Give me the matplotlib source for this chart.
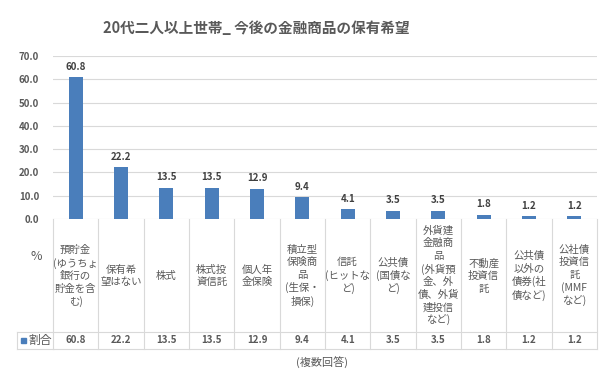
import matplotlib.pyplot as plt
from matplotlib.patches import Rectangle

plt.rcParams['font.family'] = ['Noto Sans CJK JP', 'DejaVu Sans']

categories = [
    "預貯金\n(ゆうちょ\n銀行の\n貯金を含\nむ)",
    "保有希\n望はない",
    "株式",
    "株式投\n資信託",
    "個人年\n金保険",
    "積立型\n保険商\n品\n(生保・\n損保)",
    "信託\n(ヒットな\nど)",
    "公共債\n(国債な\nど)",
    "外貨建\n金融商\n品\n(外貨預\n金、外\n債、外貨\n建投信\nなど)",
    "不動産\n投資信\n託",
    "公共債\n以外の\n債券(社\n債など)",
    "公社債\n投資信\n託\n(MMF\nなど)",
]
values = [60.8, 22.2, 13.5, 13.5, 12.9, 9.4, 4.1, 3.5, 3.5, 1.8, 1.2, 1.2]
series_name = "割合"
title = "20代二人以上世帯_ 今後の金融商品の保有希望"
note = "(複数回答)"

W, H = 600, 372
bar_color = '#4a7ebb'
text_color = '#595959'
grid_color = '#d9d9d9'

fig = plt.figure(figsize=(6, 3.72), dpi=100)

# pixel helpers
def fx(px):
    return px / W

def fy(py):
    return 1 - py / H

left, right, top, base = 53, 597, 56, 219
ax = fig.add_axes([fx(left), fy(base), fx(right - left), (base - top) / H])
n = len(values)
x = list(range(n))
ax.bar(x, values, width=0.31, color=bar_color, zorder=3)
ax.set_xlim(-0.5, n - 0.5)
ax.set_ylim(0, 70)
ax.set_yticks(range(0, 71, 10))
ax.set_yticklabels([f"{v:.1f}" for v in range(0, 71, 10)], fontsize=7, color=text_color, fontweight='bold')
ax.tick_params(axis='y', length=0, pad=10)
ax.set_xticks([])
ax.grid(axis='y', color=grid_color, linewidth=0.8, zorder=0)
for s in ax.spines.values():
    s.set_visible(False)
for xi, v in zip(x, values):
    ax.annotate(f"{v:.1f}", (xi, v), xytext=(0, 4), textcoords='offset points',
                ha='center', va='bottom', fontsize=7, color='#404040', fontweight='bold')

# table below the axis
row_top, row_bot = 332, 349
tab = fig.add_axes([fx(left), fy(row_bot), fx(right - left), (row_bot - base) / H])
tab.set_xlim(-0.5, n - 0.5)
tab.set_ylim(row_bot, base)
tab.axis('off')
line_kw = dict(color=grid_color, linewidth=0.8, clip_on=False)
for i in range(n + 1):
    tab.plot([i - 0.5, i - 0.5], [base, row_bot], **line_kw)
tab.plot([-0.5, n - 0.5], [row_top, row_top], **line_kw)
tab.plot([-0.5, n - 0.5], [row_bot, row_bot], **line_kw)
for xi, cat, v in zip(x, categories, values):
    tab.text(xi, (base + row_top) / 2 + 0.5, cat, ha='center', va='center', fontsize=7.5,
             color=text_color, linespacing=1.3)
    tab.text(xi, (row_top + row_bot) / 2, f"{v:.1f}", ha='center', va='center',
             fontsize=7, color=text_color, fontweight='bold')

# left header column
fig.lines.append(plt.Line2D([fx(17), fx(left)], [fy(row_top), fy(row_top)], transform=fig.transFigure, color=grid_color, linewidth=0.8))
fig.lines.append(plt.Line2D([fx(17), fx(left)], [fy(row_bot), fy(row_bot)], transform=fig.transFigure, color=grid_color, linewidth=0.8))
fig.lines.append(plt.Line2D([fx(17), fx(17)], [fy(row_top), fy(row_bot)], transform=fig.transFigure, color=grid_color, linewidth=0.8))
fig.text(fx(36), fy(257), "%", ha='center', va='center', fontsize=9, color=text_color)
fig.patches.append(Rectangle((fx(21), fy(343)), fx(5), 5 / H, transform=fig.transFigure, color=bar_color))
fig.text(fx(28), fy(340.5), series_name, ha='left', va='center', fontsize=8.5, color=text_color)

fig.text(fx(256), fy(28), title, ha='center', va='center', fontsize=10.5, color=text_color, fontweight='bold')
fig.text(fx(322), fy(363), note, ha='center', va='center', fontsize=8, color=text_color)

fig.savefig("out.png", dpi=100)
